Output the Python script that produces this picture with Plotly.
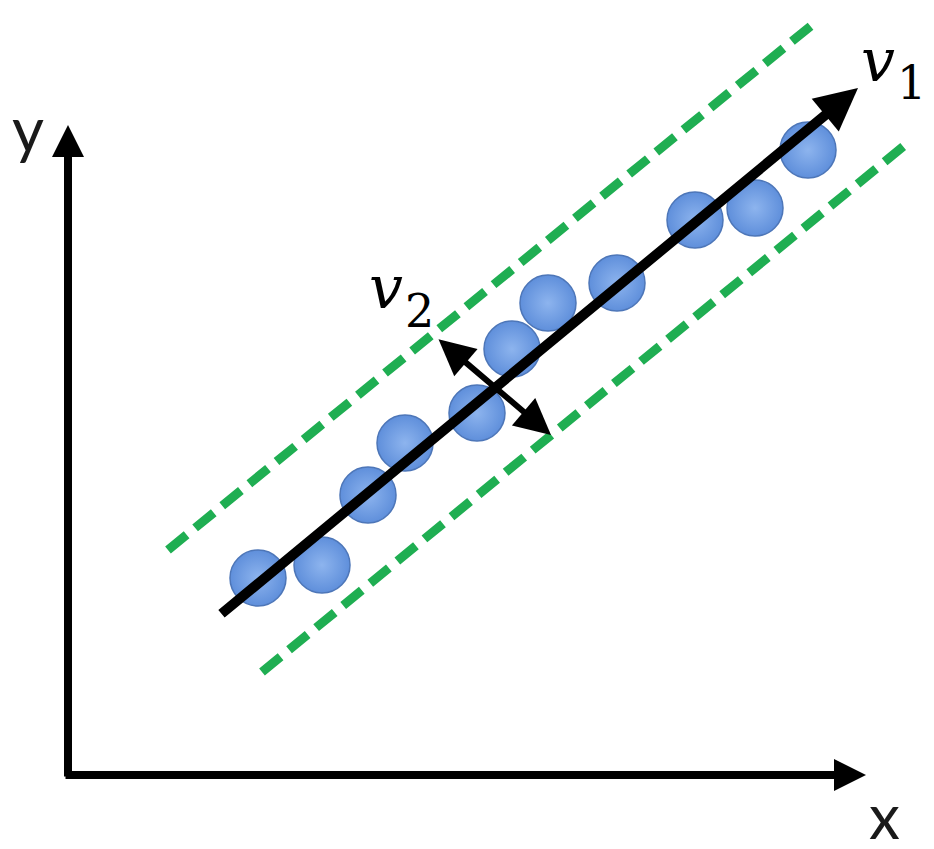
import plotly.graph_objects as go

# Data (diagram units: origin at the axes corner, y upward)
points_x = [190, 254, 300, 337, 409, 444, 480, 549, 627, 687, 740]
points_y = [197, 210, 280, 332, 362, 426, 472, 492, 555, 567, 625]

v1_start = (152, 160)
v1_end = (790, 687)
v2_a = (369, 437)
v2_b = (483, 340)
upper_band_x = [100, 744]
upper_band_y = [225, 750]
lower_band_x = [194, 837]
lower_band_y = [103, 630]
xaxis_arrow = ((-4, 0), (798, 0))
yaxis_arrow = ((0, -3), (0, 650))

axis_labels = {"y": (-40, 647), "x": (816, -40)}
vec_labels = [("v", "1", (810, 715), (843, 692)),
              ("v", "2", (318, 488), (351, 464))]

fig = go.Figure()

green = "#1fae52"
for bx, by in [(upper_band_x, upper_band_y), (lower_band_x, lower_band_y)]:
    fig.add_trace(go.Scatter(x=bx, y=by, mode="lines",
                             line=dict(color=green, width=9, dash="24px,11px"),
                             hoverinfo="skip", showlegend=False))

fig.add_trace(go.Scatter(
    x=points_x, y=points_y, mode="markers",
    marker=dict(size=56, color="#5f8fdb",
                gradient=dict(type="radial", color="#8db4ee"),
                line=dict(color="#4d76b8", width=1.5)),
    hoverinfo="skip", showlegend=False))


def arrow(tail, tip, width, size, side="end"):
    fig.add_annotation(x=tip[0], y=tip[1], ax=tail[0], ay=tail[1],
                       xref="x", yref="y", axref="x", ayref="y",
                       showarrow=True, arrowhead=2, arrowsize=size,
                       arrowwidth=width, arrowcolor="black", arrowside=side,
                       startarrowhead=2, startarrowsize=size,
                       standoff=0, startstandoff=0, text="")


arrow(xaxis_arrow[0], xaxis_arrow[1], 8, 0.8)
arrow(yaxis_arrow[0], yaxis_arrow[1], 8, 0.8)
arrow(v1_start, v1_end, 10, 0.85)
arrow(v2_a, v2_b, 6, 1.2, side="end+start")

for t, (lx, ly) in axis_labels.items():
    fig.add_annotation(x=lx, y=ly, text=t, showarrow=False,
                       font=dict(family="Lato", size=62, color="#1a1a1a"))

for v, sub, (vx, vy), (sx, sy) in vec_labels:
    fig.add_annotation(x=vx, y=vy, text="<i>" + v + "</i>", showarrow=False,
                       font=dict(family="DejaVu Serif", size=60, color="black"))
    fig.add_annotation(x=sx, y=sy, text=sub, showarrow=False,
                       font=dict(family="DejaVu Serif", size=46, color="black"))

# page body has an 8px margin: the figure is sized/placed to compensate
fig.update_layout(
    width=918, height=833,
    margin=dict(l=0, r=0, t=0, b=0),
    paper_bgcolor="white", plot_bgcolor="white",
    xaxis=dict(range=[-60, 858], visible=False, fixedrange=True),
    yaxis=dict(range=[-66, 767], visible=False, fixedrange=True),
)

fig.write_html("out.html")
